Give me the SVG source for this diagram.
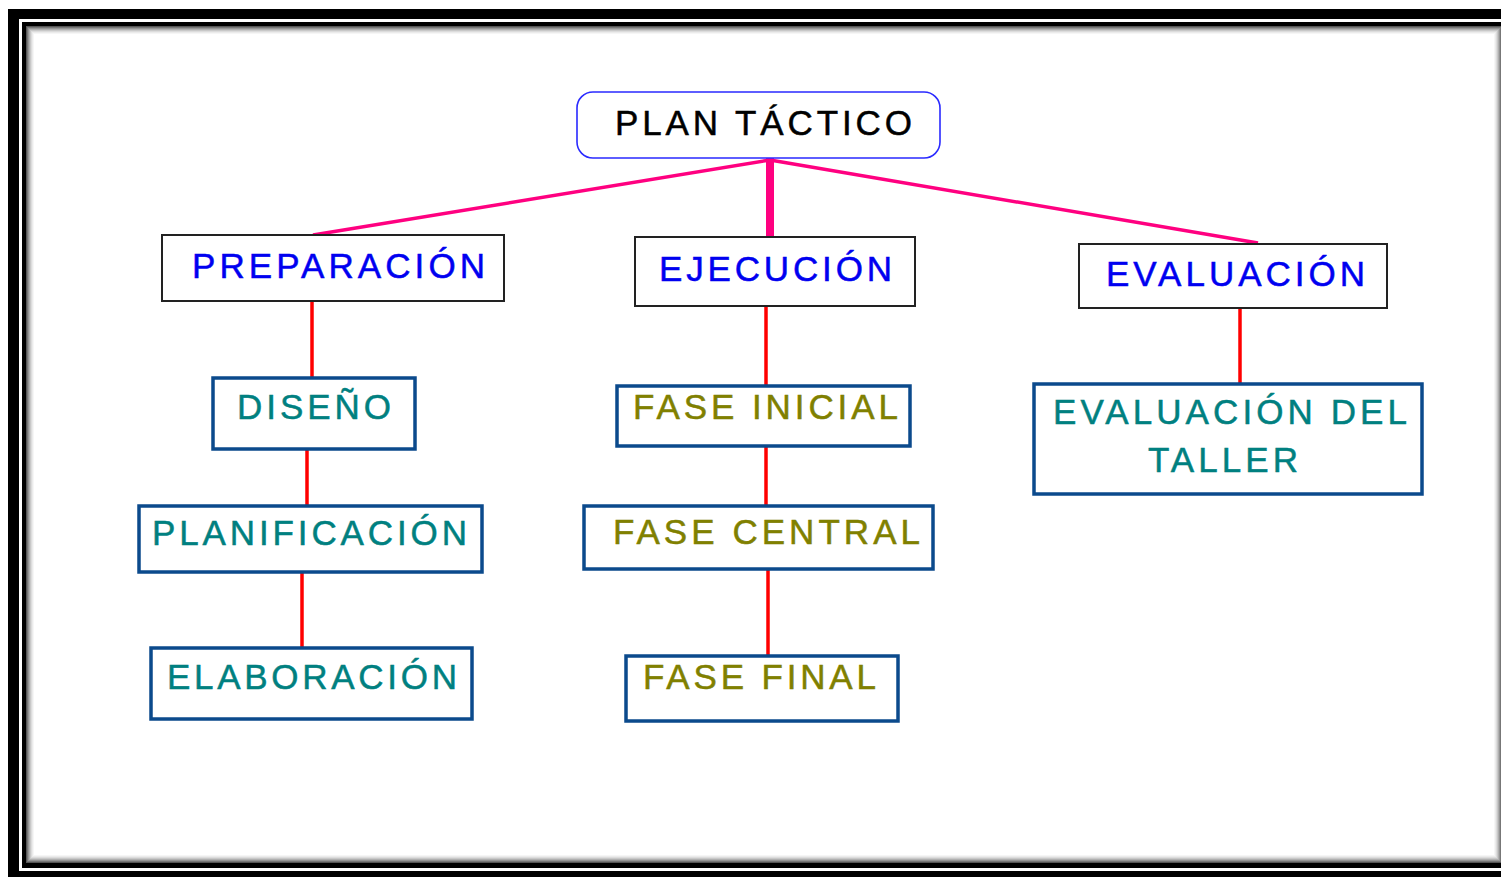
<svg xmlns="http://www.w3.org/2000/svg" width="1501" height="877" viewBox="0 0 1501 877">
<style>
.t{font-family:"Liberation Sans",Arial,sans-serif;font-size:35px;stroke-width:0.5}
.blue{fill:#0000f0;stroke:#0000f0}
.teal{fill:#008080;stroke:#008080}
.olive{fill:#808000;stroke:#808000}
.blk{fill:#000;stroke:#000}
.b1{fill:#fff;stroke:#222;stroke-width:2}
.b2{fill:#fff;stroke:#0b4a8c;stroke-width:3.5}
.pk{stroke:#ff0080;stroke-width:3.5;fill:none}
.rd{stroke:#ff0000;stroke-width:3.5;fill:none}
</style>
<g id="frame">
<rect x="0" y="0" width="1501" height="877" fill="#fff"/>
<rect x="8" y="9" width="1600" height="900" fill="#000"/>
<rect x="19" y="19" width="1600" height="852" fill="#fff"/>
<rect x="22" y="22" width="1600" height="846" fill="#000"/>
<rect x="26" y="26" width="1476" height="837" fill="#fff"/>
<g fill="none">
<rect x="26.5" y="26.5" width="1475" height="836" stroke="#555"/>
<rect x="27.5" y="27.5" width="1473" height="834" stroke="#777"/>
<rect x="28.5" y="28.5" width="1471" height="832" stroke="#959595"/>
<rect x="29.5" y="29.5" width="1469" height="830" stroke="#b0b0b0"/>
<rect x="30.5" y="30.5" width="1467" height="828" stroke="#c8c8c8"/>
<rect x="31.5" y="31.5" width="1465" height="826" stroke="#dcdcdc"/>
<rect x="32.5" y="32.5" width="1463" height="824" stroke="#ebebeb"/>
<rect x="33.5" y="33.5" width="1461" height="822" stroke="#f6f6f6"/>
</g>
</g>
<g id="connectors">
<line class="pk" x1="770" y1="160" x2="313" y2="235"/>
<line class="pk" x1="770" y1="160" x2="1258" y2="243"/>
<line x1="770" y1="157" x2="770" y2="238" stroke="#ff0080" stroke-width="8"/>
<line class="rd" x1="312" y1="301" x2="312" y2="378"/>
<line class="rd" x1="307" y1="449" x2="307" y2="506"/>
<line class="rd" x1="302" y1="572" x2="302" y2="648"/>
<line class="rd" x1="766" y1="306" x2="766" y2="386"/>
<line class="rd" x1="766" y1="446" x2="766" y2="506"/>
<line class="rd" x1="768" y1="569" x2="768" y2="656"/>
<line class="rd" x1="1240" y1="308" x2="1240" y2="384"/>
</g>
<g id="plan-tactico">
<rect x="577" y="92" width="363" height="66" rx="16" fill="#fff" stroke="#2a2aff" stroke-width="1.6"/>
<text class="t blk" x="615" y="135" textLength="297" lengthAdjust="spacing">PLAN TÁCTICO</text>
</g>
<g id="preparacion">
<rect class="b1" x="162" y="235" width="342" height="66"/>
<text class="t blue" x="192" y="278" textLength="293" lengthAdjust="spacing">PREPARACIÓN</text>
</g>
<g id="ejecucion">
<rect class="b1" x="635" y="237" width="280" height="69"/>
<text class="t blue" x="659" y="281" textLength="233" lengthAdjust="spacing">EJECUCIÓN</text>
</g>
<g id="evaluacion">
<rect class="b1" x="1079" y="244" width="308" height="64"/>
<text class="t blue" x="1106" y="286" textLength="259" lengthAdjust="spacing">EVALUACIÓN</text>
</g>
<g id="diseno">
<rect class="b2" x="213" y="378" width="202" height="71"/>
<text class="t teal" x="237" y="419" textLength="154" lengthAdjust="spacing">DISEÑO</text>
</g>
<g id="planificacion">
<rect class="b2" x="139" y="506" width="343" height="66"/>
<text class="t teal" x="152" y="545" textLength="315" lengthAdjust="spacing">PLANIFICACIÓN</text>
</g>
<g id="elaboracion">
<rect class="b2" x="151" y="648" width="321" height="71"/>
<text class="t teal" x="167" y="689" textLength="290" lengthAdjust="spacing">ELABORACIÓN</text>
</g>
<g id="fase-inicial">
<rect class="b2" x="617" y="386" width="293" height="60"/>
<text class="t olive" x="633" y="419" textLength="265" lengthAdjust="spacing">FASE INICIAL</text>
</g>
<g id="fase-central">
<rect class="b2" x="584" y="506" width="349" height="63"/>
<text class="t olive" x="613" y="544" textLength="307" lengthAdjust="spacing">FASE CENTRAL</text>
</g>
<g id="fase-final">
<rect class="b2" x="626" y="656" width="272" height="65"/>
<text class="t olive" x="643" y="689" textLength="233" lengthAdjust="spacing">FASE FINAL</text>
</g>
<g id="evaluacion-del-taller">
<rect class="b2" x="1034" y="384" width="388" height="110"/>
<text class="t teal" x="1053" y="424" textLength="354" lengthAdjust="spacing">EVALUACIÓN DEL</text>
<text class="t teal" x="1148" y="472" textLength="150" lengthAdjust="spacing">TALLER</text>
</g>
</svg>
